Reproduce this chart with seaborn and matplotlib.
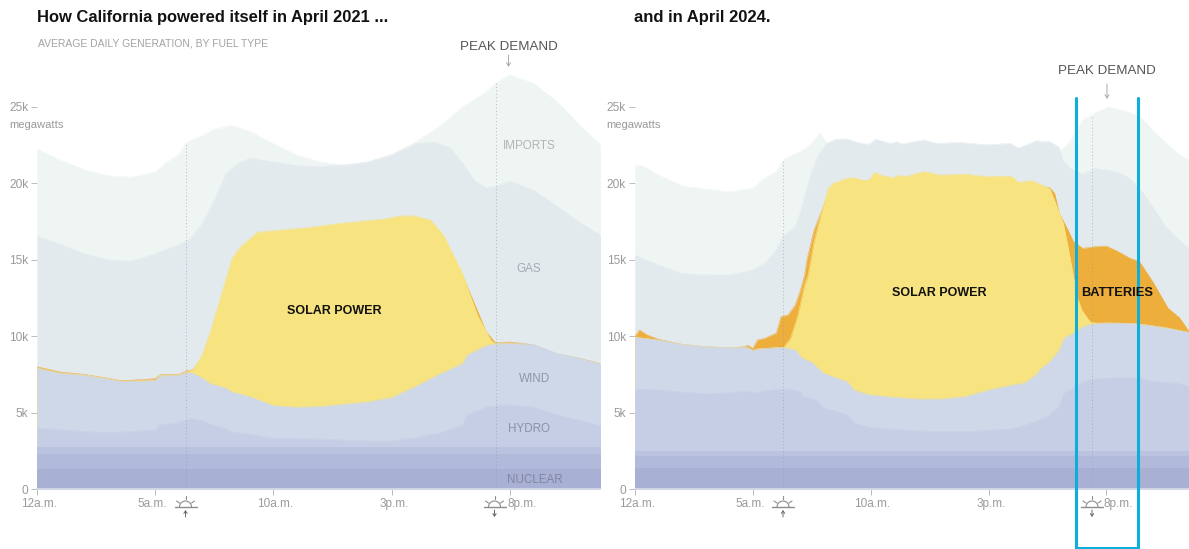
import matplotlib
matplotlib.use("Agg")
import matplotlib.pyplot as plt
from matplotlib.patches import Arc
from matplotlib.transforms import ScaledTranslation
import seaborn as sns

# all generation values are in thousands of megawatts, hours run from midnight
imports21_h = [0, 1, 2, 3, 4, 5, 5.5, 6, 6.3, 7, 7.5, 8, 8.2, 9, 10, 11, 12, 13, 14, 15, 16, 17, 18, 19, 19.4, 20, 21, 22, 23, 23.85]
imports21 = [22.25, 21.5, 20.9, 20.5, 20.4, 20.75, 21.4, 21.9, 22.65, 23.15, 23.55, 23.7, 23.8, 23.4, 22.6, 21.85, 21.4, 21.2, 21.4, 21.9, 22.7, 23.7, 25.0, 26.0, 26.55, 27.1, 26.55, 25.35, 23.75, 22.5]
gas21_h = [0, 1, 2, 3, 4, 5, 6, 6.5, 7, 7.5, 8, 8.5, 9, 10, 11, 12, 13, 14, 15, 16, 16.8, 17.5, 18, 18.5, 19, 19.4, 20, 21, 22, 23, 23.85]
gas21 = [16.56, 16.0, 15.4, 15.0, 14.9, 15.4, 16.0, 16.4, 17.4, 18.9, 20.65, 21.3, 21.65, 21.4, 21.15, 21.1, 21.2, 21.4, 21.85, 22.6, 22.7, 22.3, 21.3, 20.2, 19.7, 19.8, 20.15, 19.55, 18.5, 17.4, 16.6]
batt21_h = [0, 1, 2, 3, 3.5, 4, 5, 5.2, 6, 6.3, 6.6, 7, 9, 12, 15, 17, 18, 19, 19.4, 20, 21, 22, 23, 23.85]
batt21 = [8.0, 7.65, 7.5, 7.25, 7.1, 7.12, 7.22, 7.47, 7.5, 7.72, 7.8, 8.5, 16.3, 17.1, 17.6, 16.9, 14.0, 10.3, 9.56, 9.62, 9.44, 8.82, 8.54, 8.2]
solar21_h = [0, 1, 2, 3, 3.5, 4, 5, 5.2, 6, 6.3, 6.6, 6.98, 7.35, 7.75, 8.25, 8.6, 9.03, 9.31, 9.87, 11.43, 12.84, 14.68, 15.38, 15.95, 16.65, 17.2, 18, 18.63, 19.2, 19.4, 20, 21, 22, 23, 23.85]
solar21 = [7.92, 7.58, 7.46, 7.22, 7.06, 7.06, 7.12, 7.42, 7.46, 7.66, 7.8, 8.77, 10.4, 12.48, 15.1, 15.86, 16.4, 16.8, 16.89, 17.1, 17.39, 17.67, 17.87, 17.87, 17.6, 16.6, 14.1, 11.4, 9.75, 9.5, 9.54, 9.38, 8.78, 8.52, 8.18]
wind21_h = [0, 1, 2, 3, 3.5, 4, 5, 5.2, 6, 6.3, 6.6, 7, 7.3, 8, 8.2, 9, 10, 11, 12, 13, 14, 15, 16, 17, 18, 18.2, 19, 19.4, 20, 21, 22, 23, 23.85]
wind21 = [7.9, 7.57, 7.45, 7.2, 7.05, 7.05, 7.1, 7.4, 7.45, 7.63, 7.57, 7.25, 6.9, 6.6, 6.37, 6.04, 5.45, 5.35, 5.4, 5.55, 5.7, 5.98, 6.7, 7.5, 8.2, 8.77, 9.38, 9.5, 9.53, 9.47, 8.88, 8.55, 8.18]
hydro21_h = [0, 1, 2, 3, 4, 5, 5.2, 6, 6.5, 7, 7.5, 8, 8.2, 9, 10, 12, 14, 15, 15.5, 16, 16.5, 17, 18, 18.2, 19, 19.5, 20, 21, 22, 23, 23.85]
hydro21 = [4.0, 3.86, 3.75, 3.7, 3.75, 3.86, 4.2, 4.34, 4.62, 4.47, 4.14, 3.93, 3.75, 3.58, 3.32, 3.27, 3.14, 3.14, 3.27, 3.32, 3.53, 3.64, 4.19, 4.84, 5.35, 5.45, 5.5, 5.35, 4.84, 4.47, 4.14]
bands21_h = [0, 23.85]
other21 = [2.73, 2.73]
thermal21 = [2.27, 2.27]
nuclear21 = [1.31, 1.31]

imports24_h = [0, 0.3, 1, 2, 3, 4, 5, 5.5, 6, 6.3, 6.5, 7, 7.43, 7.85, 8.14, 9, 12, 15, 17.5, 18.1, 18.45, 18.7, 19, 19.5, 20.08, 21, 21.5, 22, 23, 23.5]
imports24 = [21.14, 21.16, 20.55, 19.83, 19.63, 19.44, 19.68, 20.33, 20.77, 21.57, 21.75, 22.08, 22.5, 23.3, 22.6, 22.7, 22.4, 22.3, 22.4, 22.2, 22.73, 23.4, 24.15, 24.6, 25.0, 24.63, 24.26, 23.4, 21.97, 21.53]
gas24_h = [0, 1, 2, 3, 4, 5, 5.5, 6, 6.3, 6.8, 7, 7.5, 7.8, 8.14, 8.56, 8.99, 9.9, 10.19, 10.82, 11.1, 11.32, 12.24, 12.8, 13.79, 14.92, 15.91, 16.27, 17.04, 17.25, 17.6, 17.96, 18.17, 18.45, 19, 19.5, 20, 20.5, 21, 21.5, 22, 22.5, 23, 23.5]
gas24 = [15.3, 14.66, 14.1, 14.0, 14.0, 14.33, 14.77, 15.64, 16.6, 17.15, 18.0, 20.8, 21.9, 22.62, 22.9, 22.9, 22.47, 22.9, 22.62, 22.73, 22.58, 22.84, 22.62, 22.68, 22.52, 22.62, 22.3, 22.8, 22.73, 22.73, 22.4, 21.42, 21.0, 20.6, 20.98, 20.87, 20.72, 20.33, 19.46, 18.37, 17.17, 16.4, 15.75]
batt24_h = [0, 0.2, 0.5, 1, 2, 3, 4, 4.6, 4.8, 5, 5.2, 5.5, 6, 6.2, 6.5, 6.8, 7, 7.2, 7.3, 7.6, 8, 8.41, 9.27, 10.16, 12.24, 14.07, 15.98, 17.18, 17.6, 17.8, 18, 18.3, 18.6, 18.8, 19, 19.5, 20, 20.5, 21, 21.4, 22, 22.6, 23.1, 23.5]
batt24 = [10.0, 10.4, 10.1, 9.8, 9.47, 9.3, 9.25, 9.3, 9.4, 9.2, 9.75, 9.86, 10.2, 11.28, 11.4, 12.04, 12.9, 14.0, 15.0, 16.95, 18.5, 19.9, 20.2, 20.1, 20.3, 20.3, 19.95, 19.85, 19.7, 19.35, 18.04, 17.15, 16.2, 15.97, 15.75, 15.86, 15.9, 15.53, 15.1, 14.88, 13.47, 11.85, 11.2, 10.3]
solar24_h = [0, 1, 2, 3, 4, 4.8, 5, 5.2, 6, 6.3, 6.6, 6.9, 7.2, 7.35, 7.6, 7.9, 8.2, 8.41, 8.99, 9.27, 9.76, 9.97, 10.16, 10.5, 10.96, 11.17, 11.45, 12.24, 12.94, 14.07, 14.92, 15.63, 15.98, 16.27, 16.83, 17.18, 17.6, 17.95, 18.17, 18.37, 18.6, 18.75, 18.96, 19.3, 19.6, 20, 21, 21.5, 22, 22.5, 23, 23.5]
solar24 = [9.93, 9.75, 9.47, 9.31, 9.25, 9.25, 9.07, 9.16, 9.25, 9.25, 9.86, 11.28, 13.35, 14.0, 16.2, 18.0, 19.68, 20.0, 20.33, 20.37, 20.18, 20.28, 20.73, 20.5, 20.37, 20.55, 20.44, 20.77, 20.55, 20.6, 20.44, 20.48, 20.44, 20.07, 20.18, 19.94, 19.65, 18.3, 17.4, 15.86, 13.9, 12.58, 11.7, 10.95, 10.85, 10.87, 10.84, 10.78, 10.67, 10.56, 10.4, 10.25]
wind24_h = [0, 1, 2, 3, 4, 4.8, 5, 5.2, 6, 6.3, 6.8, 7.1, 7.5, 8, 8.5, 9, 9.3, 9.7, 10, 11, 12, 13, 14, 15, 16, 16.5, 17, 17.2, 17.6, 18, 18.2, 18.7, 19, 19.4, 20, 21, 22, 23, 23.5]
wind24 = [9.93, 9.75, 9.47, 9.31, 9.25, 9.25, 9.07, 9.16, 9.25, 9.25, 9.1, 8.55, 8.29, 7.57, 7.29, 7.02, 6.48, 6.26, 6.15, 6.0, 5.89, 5.89, 6.04, 6.48, 6.8, 6.92, 7.46, 7.85, 8.33, 9.1, 9.86, 10.3, 10.62, 10.8, 10.86, 10.84, 10.67, 10.4, 10.25]
hydro24_h = [0, 1, 2, 3, 4, 4.8, 5, 5.5, 6, 6.5, 7, 7.1, 7.7, 8, 8.5, 9, 9.3, 9.7, 10, 11, 12, 13, 14, 15, 16, 17, 17.5, 18, 18.2, 18.7, 19, 19.5, 20, 21, 21.5, 22, 23, 23.5]
hydro24 = [6.54, 6.48, 6.33, 6.22, 6.3, 6.41, 6.28, 6.41, 6.52, 6.54, 6.37, 6.04, 5.82, 5.28, 5.1, 4.84, 4.3, 4.14, 4.01, 3.9, 3.8, 3.75, 3.75, 3.84, 3.93, 4.41, 4.73, 5.39, 6.26, 6.7, 7.02, 7.2, 7.24, 7.29, 7.2, 7.02, 6.92, 6.7]
bands24_h = [0, 23.5]
other24 = [2.49, 2.49]
thermal24 = [2.16, 2.16]
nuclear24 = [1.4, 1.4]

tick_hours = [0, 5, 10, 15, 20]
tick_names = ["12a.m.", "5a.m.", "10a.m.", "3p.m.", "8p.m."]
mw_ticks = [0, 5, 10, 15, 20, 25]
mw_names = ["0", "5k", "10k", "15k", "20k", "25k"]

IMPORTS_C = "#eff5f3"
GAS_C = "#e3eaee"
BATT_C = "#eeae3c"
SOLAR_C = "#f7e37f"
WIND_C = "#cfd8e8"
HYDRO_C = "#c5cee5"
OTHER_C = "#bac3df"
THERMAL_C = "#b1bada"
NUCLEAR_C = "#a8b1d4"
GREY = "#9a9a9a"

sns.set_theme(style="white")
plt.rcParams["font.family"] = ["Liberation Sans", "DejaVu Sans"]

W, H = 1189, 549
fig = plt.figure(figsize=(W / 100, H / 100), dpi=100)

# labels sit a little off their ticks to leave room for the sun icons
label_shift_px = [2, -2.5, 1.5, 2.5, 12]


def make_axes(x0, x1, xmax):
    ax = fig.add_axes([x0 / W, (H - 489) / H, (x1 - x0) / W, 489 / H])
    ax.set_xlim(0, xmax)
    ax.set_ylim(0, 32)
    ax.patch.set_alpha(0)
    sns.despine(ax=ax, left=True, top=True, right=True)
    ax.spines["bottom"].set_color("#d5daea")
    ax.set_xticks(tick_hours)
    ax.set_xticklabels(tick_names, fontsize=8.5, color=GREY, va="baseline")
    ax.set_yticks(mw_ticks)
    ax.set_yticklabels(mw_names, fontsize=8.6, color=GREY)
    ax.tick_params(axis="both", length=4.3, width=0.7, color="#bbbbbb", left=True, bottom=True)
    ax.tick_params(axis="y", pad=2)
    ax.tick_params(axis="x", pad=8.6)
    for label, dx in zip(ax.get_xticklabels(), label_shift_px):
        label.set_transform(label.get_transform() + ScaledTranslation(dx / 100, 0, fig.dpi_scale_trans))
    ax.set_xlabel("")
    ax.set_ylabel("")
    return ax


def layer(ax, hours, values, color, z):
    # painted from the tallest down, so each one only needs its own top edge
    ax.fill_between(hours, 0, values, color=color, linewidth=0, zorder=z)
    sns.lineplot(x=hours, y=values, color=color, linewidth=0.4, ax=ax, estimator=None, sort=False, zorder=z)


# xmax stops just short of the last reading so the stacked edges don't fringe
ax1 = make_axes(37, 600, 23.82)
layer(ax1, imports21_h, imports21, IMPORTS_C, 1.0)
layer(ax1, gas21_h, gas21, GAS_C, 1.1)
layer(ax1, batt21_h, batt21, BATT_C, 1.2)
layer(ax1, solar21_h, solar21, SOLAR_C, 1.3)
layer(ax1, wind21_h, wind21, WIND_C, 1.4)
layer(ax1, hydro21_h, hydro21, HYDRO_C, 1.5)
layer(ax1, bands21_h, other21, OTHER_C, 1.6)
layer(ax1, bands21_h, thermal21, THERMAL_C, 1.7)
layer(ax1, bands21_h, nuclear21, NUCLEAR_C, 1.8)

ax2 = make_axes(634.8, 1189, 23.5)
layer(ax2, imports24_h, imports24, IMPORTS_C, 1.0)
layer(ax2, gas24_h, gas24, GAS_C, 1.1)
layer(ax2, batt24_h, batt24, BATT_C, 1.2)
layer(ax2, solar24_h, solar24, SOLAR_C, 1.3)
layer(ax2, wind24_h, wind24, WIND_C, 1.4)
layer(ax2, hydro24_h, hydro24, HYDRO_C, 1.5)
layer(ax2, bands24_h, other24, OTHER_C, 1.6)
layer(ax2, bands24_h, thermal24, THERMAL_C, 1.7)
layer(ax2, bands24_h, nuclear24, NUCLEAR_C, 1.8)

# sunrise and sunset guides
ax1.plot([6.3, 6.3], [0, 22.65], color="#8f95a8", lw=0.7, ls=(0, (1, 2.5)), alpha=0.6)
ax1.plot([19.4, 19.4], [0, 26.55], color="#8f95a8", lw=0.7, ls=(0, (1, 2.5)), alpha=0.6)
ax2.plot([6.3, 6.3], [0, 21.57], color="#8f95a8", lw=0.7, ls=(0, (1, 2.5)), alpha=0.6)
ax2.plot([19.4, 19.4], [0, 24.5], color="#8f95a8", lw=0.7, ls=(0, (1, 2.5)), alpha=0.6)

# overlay in image pixels for the annotations
ov = fig.add_axes([0, 0, 1, 1], zorder=10)
ov.set_xlim(0, W)
ov.set_ylim(H, 0)
ov.axis("off")

ov.text(37, 17.5, "How California powered itself in April 2021 ...", fontsize=11.9, fontweight="bold", color="#121212", va="center")
ov.text(634, 17.5, "and in April 2024.", fontsize=12, fontweight="bold", color="#121212", va="center")
ov.text(38, 43.5, "AVERAGE DAILY GENERATION, BY FUEL TYPE", fontsize=7.45, color="#a3a3a3", va="center")

for x, y, arrow_top, arrow_bottom in [(508.5, 46.5, 55, 67), (1107, 71.5, 84, 99)]:
    ov.text(x, y, "PEAK DEMAND", fontsize=9.6, color="#555555", ha="center", va="center")
    ov.annotate("", xy=(x, arrow_bottom), xytext=(x, arrow_top),
                arrowprops=dict(arrowstyle="->,head_width=0.12,head_length=0.2", color="#aaaaaa", lw=0.7, shrinkA=0, shrinkB=0))

for x in [9, 606]:
    ov.text(x, 124.5, "megawatts", fontsize=8.1, color=GREY, va="center")

for x, y, name, col in [(529, 146, "IMPORTS", "#b0b6b6"), (529, 269.5, "GAS", "#a4acb2"), (534.5, 379, "WIND", "#8f97a8"),
                        (529, 429.5, "HYDRO", "#8a92a8"), (534.5, 480, "NUCLEAR", "#7f87a0")]:
    ov.text(x, y, name, fontsize=8.4, color=col, ha="center", va="center")

for x, y, name, size in [(334, 311.5, "SOLAR POWER", 9.0), (939, 293.5, "SOLAR POWER", 9.0), (1117, 293.5, "BATTERIES", 9.3)]:
    ov.text(x, y, name, fontsize=size, fontweight="bold", color="#111111", ha="center", va="center")


def sun(x, rising):
    c = "#8c8c8c"
    base = 507
    ov.plot([x - 11, x + 11], [base, base], color=c, lw=1.0)
    ov.add_patch(Arc((x, base), 12, 12, theta1=180, theta2=360, color=c, lw=0.8))
    ov.plot([x, x], [base - 11, base - 8], color=c, lw=0.8)
    ov.plot([x - 9, x - 6], [base - 6, base - 4], color=c, lw=0.8)
    ov.plot([x + 9, x + 6], [base - 6, base - 4], color=c, lw=0.8)
    start, end = (517, 510) if rising else (510, 517)
    ov.annotate("", xy=(x, end), xytext=(x, start),
                arrowprops=dict(arrowstyle="->,head_width=0.1,head_length=0.15", color="#666666", lw=0.7, shrinkA=0, shrinkB=0))


sun(185.5, True)
sun(494.5, False)
sun(783, True)
sun(1092, False)

# blue highlight box, open at the top
ov.plot([1076, 1076, 1137.5, 1137.5], [98, 548, 548, 98], color="#0eaedb", lw=2.2, solid_joinstyle="miter", clip_on=False)

fig.savefig("out.png", dpi=100)
